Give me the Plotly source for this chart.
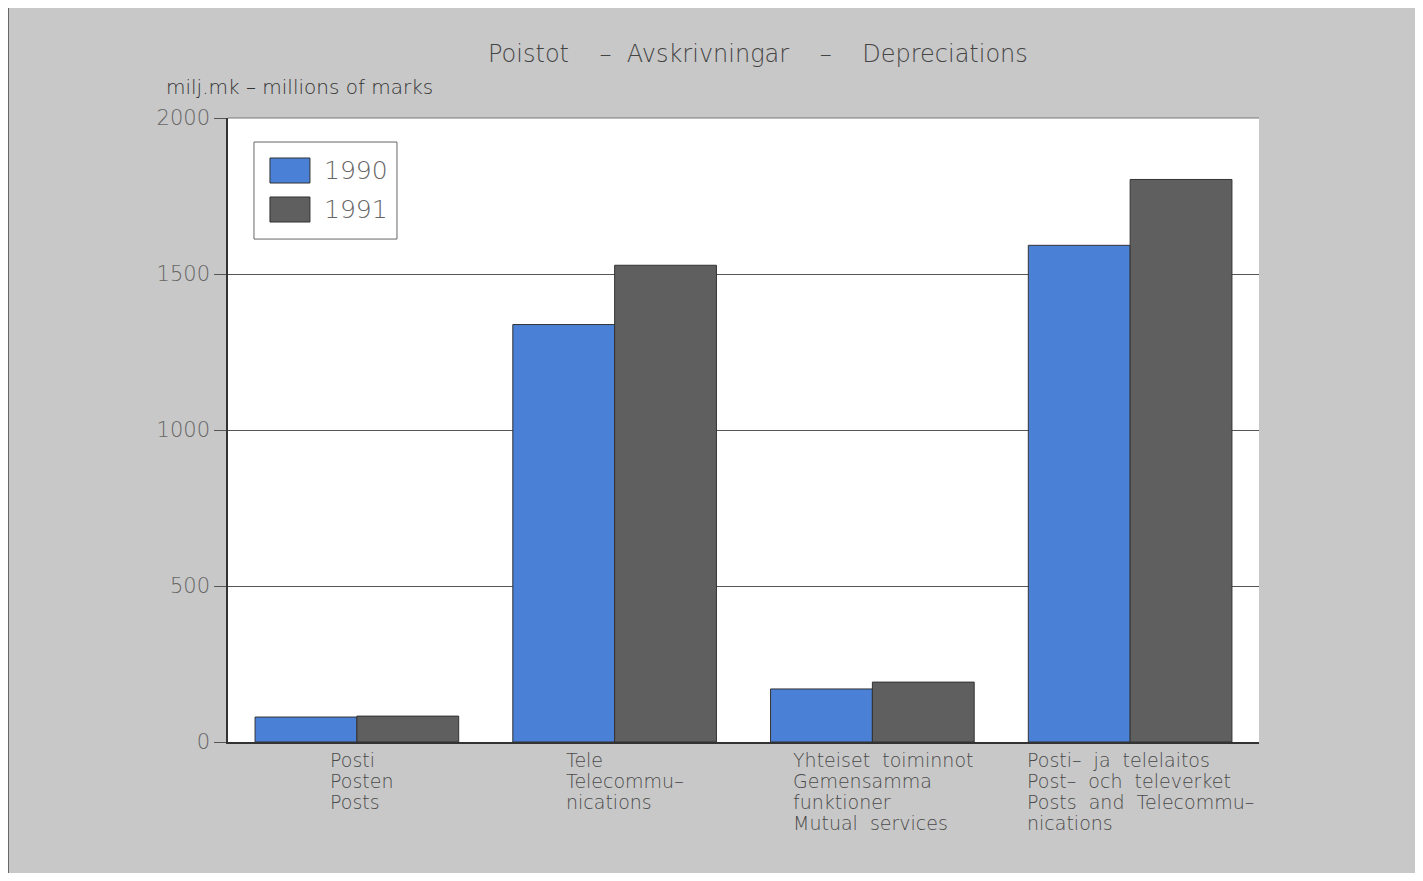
import plotly.graph_objects as go

# Data (millions of marks)
categories = ["Posti", "Tele", "Yhteiset", "Posti ja tele"]
labels = [
    ["Posti", "Posten", "Posts"],
    ["Tele", "Telecommu–", "nications"],
    ["Yhteiset  toiminnot", "Gemensamma", "funktioner", "Mutual  services"],
    ["Posti–  ja  telelaitos", "Post–  och  televerket", "Posts  and  Telecommu–", "nications"],
]
label_shift = [-29, -51, -81, -105]
years = ["1990", "1991"]
values_1990 = [80, 1338, 170, 1592]
values_1991 = [83, 1528, 192, 1803]

BLUE = "#4a80d6"
GRAY = "#5f5f5f"
BG = "#c8c8c8"
TEXT = "#4a4a4a"
FONT = "DejaVu Sans"

fig = go.Figure()
for name, vals, col in zip(years, [values_1990, values_1991], [BLUE, GRAY]):
    fig.add_trace(go.Bar(x=categories, y=vals, name=name, showlegend=False,
                         marker=dict(color=col, line=dict(color="#333", width=1))))

# category labels, left aligned under each pair of bars, one line at a time
for cat, lines, dx in zip(categories, labels, label_shift):
    for i, line in enumerate(lines):
        fig.add_annotation(x=cat, y=0, xref="x", yref="y", text=line, showarrow=False,
                           xanchor="left", yanchor="top", align="left", xshift=dx, yshift=-5 - 21 * i,
                           font=dict(family=FONT, size=19, color=TEXT, weight=300))

fig.add_annotation(text="milj.mk – millions of marks", xref="paper", yref="paper",
                   x=-0.062, y=1.05, xanchor="left", yanchor="middle", showarrow=False,
                   font=dict(family=FONT, size=20, color="#333", weight=300))

# legend box drawn by hand so the swatches are as large as in the original
fig.add_shape(type="rect", xref="paper", yref="paper", x0=0.0252, x1=0.1639, y0=0.806, y1=0.9615,
              fillcolor="white", line=dict(color="#666", width=1))
for i, (name, col) in enumerate(zip(years, [BLUE, GRAY])):
    top = 0.9359 - i * 0.0625
    fig.add_shape(type="rect", xref="paper", yref="paper", x0=0.0407, x1=0.0795,
                  y0=top - 0.0401, y1=top, fillcolor=col, line=dict(color="#333", width=1))
    fig.add_annotation(text=name, xref="paper", yref="paper", x=0.0912, y=top - 0.02,
                       xanchor="left", yanchor="middle", showarrow=False,
                       font=dict(family=FONT, size=25, color="#666", weight=300))

# thin top edge of the plot area
fig.add_shape(type="line", xref="paper", yref="paper", x0=0, x1=1, y0=1, y1=1,
              line=dict(color="#777", width=1))

# outer frame of the figure
fig.add_shape(type="rect", xref="paper", yref="paper", x0=-0.2134, x1=1.1542, y0=-0.222, y1=1.181,
              line=dict(color="#444", width=1.5))

fig.update_layout(
    width=1407, height=865,
    margin=dict(l=220, r=156, t=110, b=131),
    paper_bgcolor=BG, plot_bgcolor="white",
    barmode="group", bargap=0.21, bargroupgap=0,
    font=dict(family=FONT, color=TEXT),
    title=dict(text="Poistot    –  Avskrivningar    –    Depreciations", x=0.533, xanchor="center",
               y=0.947, yanchor="middle", font=dict(family=FONT, size=24, color="#444", weight=300)),
    xaxis=dict(showticklabels=False, showline=True, linecolor="#333", linewidth=1.5, mirror=False,
               ticks=""),
    yaxis=dict(range=[0, 2000], tickvals=[0, 500, 1000, 1500, 2000], showgrid=True,
               gridcolor="#555", gridwidth=1, ticks="outside", ticklen=12, tickcolor="#555",
               showline=True, linecolor="#333", linewidth=1.5, zeroline=False, mirror=False,
               tickfont=dict(family=FONT, size=21, color="#666", weight=300)),
    showlegend=False,
)

fig.write_html("out.html")
